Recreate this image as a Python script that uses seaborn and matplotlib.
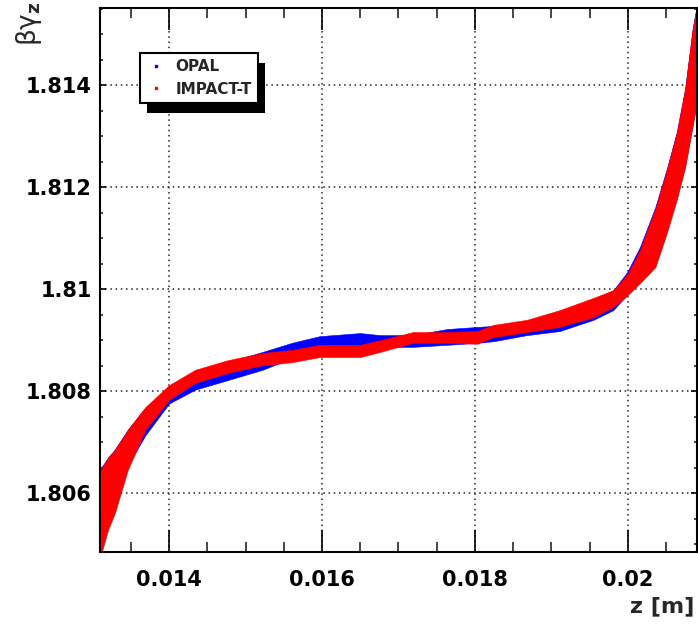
import numpy as np
import pandas as pd
import matplotlib
matplotlib.use("Agg")
import matplotlib.pyplot as plt
from matplotlib.lines import Line2D
from matplotlib.patches import Rectangle
from matplotlib.ticker import MultipleLocator
from matplotlib.transforms import IdentityTransform
import seaborn as sns

# ---- data (band edges of each particle cloud) ----
z_m = [0.01309, 0.01320, 0.01329, 0.01346, 0.01369, 0.01400, 0.01434, 0.01477,
       0.01522, 0.01561, 0.01597, 0.01650, 0.01676, 0.01719, 0.01764, 0.01803,
       0.01824, 0.01868, 0.01911, 0.01955, 0.01981, 0.01999, 0.02016, 0.02036,
       0.02051, 0.02064, 0.02075, 0.02085, 0.02091]

impact_hi = [1.80642, 1.80669, 1.80685, 1.80724, 1.80769, 1.80812, 1.80842, 1.80861,
             1.80875, 1.80881, 1.80891, 1.80891, 1.80900, 1.80916, 1.80916, 1.80918,
             1.80930, 1.80940, 1.80959, 1.80983, 1.80998, 1.81028, 1.81077, 1.81157,
             1.81233, 1.81306, 1.81392, 1.81512, 1.81560]
impact_lo = [1.80469, 1.80528, 1.80561, 1.80646, 1.80724, 1.80783, 1.80816, 1.80836,
             1.80851, 1.80857, 1.80867, 1.80867, 1.80877, 1.80895, 1.80895, 1.80893,
             1.80906, 1.80916, 1.80926, 1.80945, 1.80965, 1.80987, 1.81012, 1.81043,
             1.81110, 1.81175, 1.81239, 1.81321, 1.81371]

opal_hi = [1.80645, 1.80670, 1.80686, 1.80725, 1.80768, 1.80806, 1.80834, 1.80857,
           1.80877, 1.80895, 1.80908, 1.80914, 1.80910, 1.80910, 1.80922, 1.80926,
           1.80928, 1.80936, 1.80953, 1.80979, 1.80998, 1.81033, 1.81083, 1.81161,
           1.81236, 1.81308, 1.81394, 1.81513, 1.81561]
opal_lo = [1.80493, 1.80548, 1.80577, 1.80655, 1.80714, 1.80776, 1.80803, 1.80822,
           1.80842, 1.80865, 1.80881, 1.80887, 1.80887, 1.80887, 1.80891, 1.80895,
           1.80898, 1.80910, 1.80918, 1.80940, 1.80959, 1.80989, 1.81016, 1.81047,
           1.81114, 1.81179, 1.81243, 1.81325, 1.81375]

series_names = ["OPAL", "IMPACT-T"]
series_colors = ["#0000ff", "#ff0000"]
x_ticks = [0.014, 0.016, 0.018, 0.020]
x_tick_labels = ["0.014", "0.016", "0.018", "0.02"]
y_ticks = [1.806, 1.808, 1.810, 1.812, 1.814]
y_tick_labels = ["1.806", "1.808", "1.81", "1.812", "1.814"]

# ---- style ----
sns.set_style("ticks")
plt.rcParams["font.family"] = ["DejaVu Sans"]

W, H = 698, 625
fig = plt.figure(figsize=(W / 100, H / 100), dpi=100)
ax = fig.add_axes([100 / W, 1 - 552 / H, 597 / W, 544 / H])


def long_form(lo, hi, name):
    return pd.DataFrame({"z": list(z_m) * 2, "bg": list(lo) + list(hi), "code": name})


df = pd.concat([long_form(opal_lo, opal_hi, series_names[0]),
                long_form(impact_lo, impact_hi, series_names[1])], ignore_index=True)

sns.lineplot(data=df, x="z", y="bg", hue="code", hue_order=series_names,
             palette=dict(zip(series_names, series_colors)),
             estimator="mean", errorbar=("pi", 100),
             err_kws={"alpha": 1, "linewidth": 0.4}, linewidth=0,
             ax=ax, legend=False)

ax.set_xlabel("")
ax.set_ylabel("")
ax.set_xlim(0.013096, 0.020905)
ax.set_ylim(1.80485, 1.81551)
ax.set_xticks(x_ticks, x_tick_labels)
ax.set_yticks(y_ticks, y_tick_labels)
ax.xaxis.set_minor_locator(MultipleLocator(0.0005))
ax.yaxis.set_minor_locator(MultipleLocator(0.0005))

ax.tick_params(axis="x", which="major", direction="in", length=16, width=1.2,
               top=True, bottom=True, labelsize=15, pad=13, colors="black")
ax.tick_params(axis="x", which="minor", direction="in", length=7, width=1.2,
               top=True, bottom=True)
ax.tick_params(axis="y", which="major", direction="in", length=4.5, width=1.2,
               left=True, right=True, labelsize=15, pad=6, colors="black")
ax.tick_params(axis="y", which="minor", direction="in", length=2.5, width=1.2,
               left=True, right=True)
for lbl in ax.get_xticklabels() + ax.get_yticklabels():
    lbl.set_fontweight("bold")

ax.grid(True, which="major", color="#222222", linestyle=(0, (1, 2.4)), linewidth=1.1)
ax.set_axisbelow(True)
for sp in ax.spines.values():
    sp.set_visible(True)
    sp.set_color("black")
    sp.set_linewidth(1.5)

# ---- legend ----
handles = [Line2D([], [], marker="s", color=c, linestyle="none", markersize=2)
           for c in series_colors]
leg = ax.legend(handles, series_names, loc="upper left",
                bbox_to_anchor=(40 / 597, 1 - 45 / 544), borderaxespad=0,
                frameon=True, fancybox=False, edgecolor="black", framealpha=1,
                prop={"weight": "bold", "size": 11}, handlelength=1.3,
                handletextpad=0.6, labelspacing=0.5, borderpad=0.4)
leg.get_frame().set_linewidth(1.5)
leg.set_zorder(6)

# ---- axis titles ----
fig.text(29 / W, 1 - 1 / H, "βγ$_\\mathbf{z}$", rotation=90, ha="center", va="top",
         fontsize=19)
fig.text(694 / W, 1 - 612 / H, "z [m]", ha="right", va="baseline",
         fontsize=16, fontweight="bold")

# shadow of the legend box (ROOT style)
fig.canvas.draw()
bb = leg.get_window_extent()
shadow = Rectangle((bb.x0 + 7, bb.y0 - 10), bb.width, bb.height,
                   transform=IdentityTransform(), facecolor="black",
                   edgecolor="none", zorder=5.9)
ax.add_artist(shadow)

fig.savefig("out.png", dpi=100)
